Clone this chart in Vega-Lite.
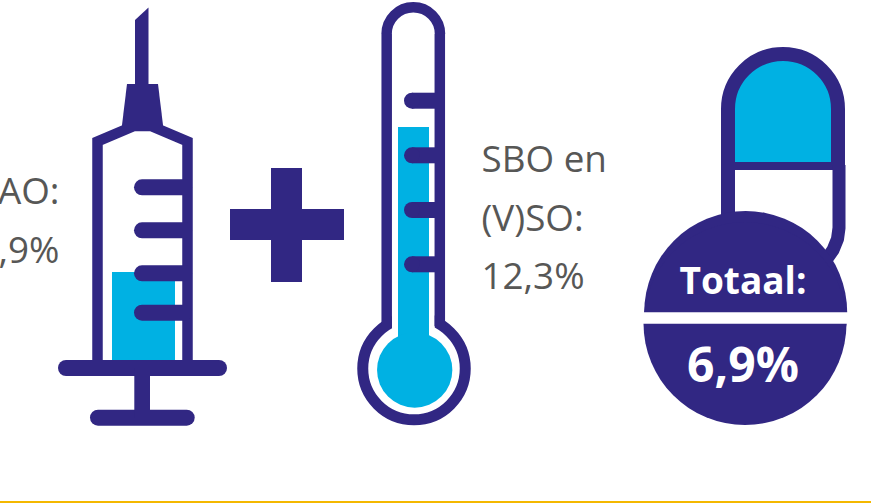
{"$schema":"https://vega.github.io/schema/vega-lite/v6.json","width":874,"height":503,"padding":0,"autosize":{"type":"none"},"background":"#ffffff","config":{"view":{"stroke":null},"text":{"font":"Open Sans"}},
"encoding":{"x":{"field":"x","type":"quantitative","scale":{"domain":[0,874],"nice":false,"zero":false},"axis":null},"y":{"field":"y","type":"quantitative","scale":{"domain":[503,0],"nice":false,"zero":false},"axis":null}},
"layer":[
{"data":{"values":[{"part":"syringe fill","x":112,"x2":175,"y":272,"y2":362}]},"mark":{"type":"rect","fill":"#00b1e3"},"encoding":{"x2":{"field":"x2"},"y2":{"field":"y2"}}},
{"data":{"values":[{"i":0,"x":97.5,"y":362},{"i":1,"x":97.5,"y":141.5},{"i":2,"x":134,"y":126},{"i":3,"x":151,"y":126},{"i":4,"x":187.5,"y":141.5},{"i":5,"x":187.5,"y":362}]},"mark":{"type":"line","stroke":"#312783","strokeWidth":10.5,"strokeJoin":"miter","strokeCap":"butt"},"encoding":{"order":{"field":"i","type":"quantitative"}}},
{"data":{"values":[{"x":135,"y":20,"y2":90},{"x":148.5,"y":7.5,"y2":90}]},"mark":{"type":"area","fill":"#312783"},"encoding":{"y2":{"field":"y2"}}},
{"data":{"values":[{"x":122,"y":125,"y2":130},{"x":127,"y":84,"y2":130},{"x":158,"y":84,"y2":130},{"x":163,"y":125,"y2":130}]},"mark":{"type":"area","fill":"#312783"},"encoding":{"y2":{"field":"y2"}}},
{"data":{"values":[{"x":142,"x2":184,"y":187.3},{"x":142,"x2":184,"y":230.3},{"x":142,"x2":184,"y":273.3},{"x":142,"x2":184,"y":312.7},{"x":66,"x2":219,"y":368},{"x":98,"x2":186.7,"y":417.7}]},"mark":{"type":"rule","stroke":"#312783","strokeWidth":16,"strokeCap":"round"},"encoding":{"x2":{"field":"x2"}}},
{"data":{"values":[{"x":134.3,"x2":150,"y":368,"y2":418}]},"mark":{"type":"rect","fill":"#312783"},"encoding":{"x2":{"field":"x2"},"y2":{"field":"y2"}}},
{"data":{"values":[{"x":230,"x2":344,"y":209,"y2":240},{"x":271,"x2":302,"y":168,"y2":282}]},"mark":{"type":"rect","fill":"#312783"},"encoding":{"x2":{"field":"x2"},"y2":{"field":"y2"}}},
{"data":{"values":[{"x":59.5,"y":204,"t":"AO:"},{"x":59.5,"y":263,"t":",9%"}]},"mark":{"type":"text","align":"right","baseline":"alphabetic","fontSize":36.8,"fill":"#575756"},"encoding":{"text":{"field":"t"}}},
{"data":{"values":[{"x":481.5,"y":172,"t":"SBO en"},{"x":481.5,"y":231,"t":"(V)SO:"},{"x":481.5,"y":289,"t":"12,3%"}]},"mark":{"type":"text","align":"left","baseline":"alphabetic","fontSize":36.8,"fill":"#575756"},"encoding":{"text":{"field":"t"}}},
{"data":{"values":[{"x":413.3,"y":34}]},"mark":{"type":"point","shape":"circle","filled":false,"opacity":1,"stroke":"#312783","strokeWidth":10.5,"size":2852}},
{"data":{"values":[{"x":375,"x2":452,"y":34,"y2":90}]},"mark":{"type":"rect","fill":"#ffffff"},"encoding":{"x2":{"field":"x2"},"y2":{"field":"y2"}}},
{"data":{"values":[{"x":414,"y":368.6}]},"mark":{"type":"point","shape":"circle","filled":false,"opacity":1,"stroke":"#312783","strokeWidth":11,"size":10506}},
{"data":{"values":[{"x":392,"x2":434.7,"y":300,"y2":335}]},"mark":{"type":"rect","fill":"#ffffff"},"encoding":{"x2":{"field":"x2"},"y2":{"field":"y2"}}},
{"data":{"values":[{"x":398,"x2":429,"y":127,"y2":345}]},"mark":{"type":"rect","fill":"#00b1e3"},"encoding":{"x2":{"field":"x2"},"y2":{"field":"y2"}}},
{"data":{"values":[{"x":414.7,"y":370}]},"mark":{"type":"point","shape":"circle","filled":true,"opacity":1,"fill":"#00b1e3","strokeWidth":0,"size":5670}},
{"data":{"values":[{"x":386.7,"y":34,"y2":326},{"x":439.8,"y":34,"y2":326}]},"mark":{"type":"rule","stroke":"#312783","strokeWidth":10.5},"encoding":{"y2":{"field":"y2"}}},
{"data":{"values":[{"x":412,"x2":438,"y":100.7},{"x":412,"x2":438,"y":155.3},{"x":412,"x2":438,"y":210},{"x":412,"x2":438,"y":264.3}]},"mark":{"type":"rule","stroke":"#312783","strokeWidth":16,"strokeCap":"butt"},"encoding":{"x2":{"field":"x2"}}},
{"data":{"values":[{"x":412,"y":100.7},{"x":412,"y":155.3},{"x":412,"y":210},{"x":412,"y":264.3}]},"mark":{"type":"point","shape":"circle","filled":true,"opacity":1,"fill":"#312783","strokeWidth":0,"size":256}},
{"data":{"values":[{"x":783,"y":109}]},"mark":{"type":"point","shape":"circle","filled":true,"opacity":1,"fill":"#00b1e3","stroke":"#312783","strokeWidth":14,"size":12100}},
{"data":{"values":[{"x":715,"x2":852,"y":109,"y2":172}]},"mark":{"type":"rect","fill":"#ffffff"},"encoding":{"x2":{"field":"x2"},"y2":{"field":"y2"}}},
{"data":{"values":[{"x":735,"x2":831,"y":109,"y2":163}]},"mark":{"type":"rect","fill":"#00b1e3"},"encoding":{"x2":{"field":"x2"},"y2":{"field":"y2"}}},
{"data":{"values":[{"x":721,"x2":735,"y":109,"y2":235},{"x":831,"x2":845,"y":109,"y2":170},{"x":721,"x2":845,"y":162,"y2":170}]},"mark":{"type":"rect","fill":"#312783"},"encoding":{"x2":{"field":"x2"},"y2":{"field":"y2"}}},
{"data":{"values":[{"i":0,"x":839,"y":165},{"i":1,"x":839,"y":228},{"i":2,"x":837.5,"y":239},{"i":3,"x":833,"y":250},{"i":4,"x":826,"y":260}]},"mark":{"type":"line","stroke":"#312783","strokeWidth":13,"strokeJoin":"round"},"encoding":{"order":{"field":"i","type":"quantitative"}}},
{"data":{"values":[{"x":745.7,"y":312.5}]},"mark":{"type":"point","shape":"circle","filled":true,"opacity":1,"fill":"#312783","strokeWidth":0,"size":41209}},
{"data":{"values":[{"x":745,"y":323.5}]},"mark":{"type":"point","shape":"circle","filled":true,"opacity":1,"fill":"#312783","strokeWidth":0,"size":41209}},
{"data":{"values":[{"x":635,"x2":855,"y":312.3,"y2":323.7}]},"mark":{"type":"rect","fill":"#ffffff"},"encoding":{"x2":{"field":"x2"},"y2":{"field":"y2"}}},
{"data":{"values":[{"x":743,"y":294,"t":"Totaal:"}]},"mark":{"type":"text","align":"center","baseline":"alphabetic","fontSize":37,"fontWeight":"bold","fill":"#ffffff"},"encoding":{"text":{"field":"t"}}},
{"data":{"values":[{"x":743,"y":382,"t":"6,9%"}]},"mark":{"type":"text","align":"center","baseline":"alphabetic","fontSize":48,"fontWeight":"bold","fill":"#ffffff"},"encoding":{"text":{"field":"t"}}},
{"data":{"values":[{"x":0,"x2":871,"y":501,"y2":503}]},"mark":{"type":"rect","fill":"#f4b800"},"encoding":{"x2":{"field":"x2"},"y2":{"field":"y2"}}}
]}
